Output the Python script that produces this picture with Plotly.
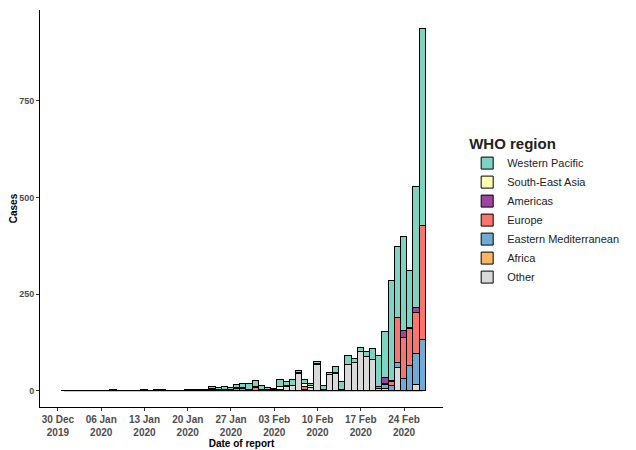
import pandas as pd
import plotly.graph_objects as go

# Dates of report: 31 Dec 2019 .. 27 Feb 2020 (59 days)
dates = pd.date_range("2019-12-31", "2020-02-27", freq="D")

# Values per WHO region (Dec 31, Jan 1..31, Feb 1..27)
western_pacific = ([0] + [0, 0, 0, 0, 0, 0, 0, 0, 0, 0]
                   + [0, 0, 0, 0, 1, 1, 0, 0, 0, 1]
                   + [0, 2, 3, 6, 6, 7, 3, 9, 10, 14, 16]
                   + [10, 4, 4, 17, 12, 14, 4, 9, 7, 6]
                   + [8, 6, 15, 21, 22, 11, 9, 11, 29, 81]
                   + [121, 259, 183, 243, 146, 313, 509])
south_east_asia = ([0] + [0, 0, 0, 0, 0, 0, 0, 1, 0, 0]
                   + [0, 0, 1, 0, 0, 0, 0, 0, 0, 0]
                   + [1, 0, 0, 1, 0, 1, 2, 2, 2, 3, 3]
                   + [0, 1, 0, 8, 1, 0, 0, 8, 3, 0]
                   + [0, 0, 2, 0, 0, 0, 0, 0, 0, 0]
                   + [0, 0, 0, 0, 0, 0, 0])
americas = ([0] + [0, 0, 0, 0, 0, 0, 0, 0, 0, 0]
            + [0, 0, 0, 0, 0, 0, 0, 0, 0, 0]
            + [1, 0, 0, 1, 0, 2, 1, 0, 0, 0, 0]
            + [1, 0, 0, 0, 0, 0, 0, 0, 0, 0]
            + [0, 0, 0, 0, 0, 0, 2, 0, 0, 0]
            + [15, 4, 0, 19, 3, 13, 0])
europe = ([0] + [0, 0, 0, 0, 0, 0, 0, 0, 0, 0]
          + [0, 0, 0, 0, 0, 0, 0, 0, 0, 0]
          + [0, 0, 0, 2, 1, 0, 0, 4, 1, 0, 6]
          + [2, 2, 1, 2, 0, 0, 3, 7, 2, 3]
          + [3, 0, 0, 1, 0, 0, 0, 0, 0, 0]
          + [2, 10, 116, 106, 97, 105, 294])
eastern_mediterranean = ([0] + [0, 0, 0, 0, 0, 0, 0, 0, 0, 0]
                         + [0, 0, 0, 0, 0, 0, 0, 0, 0, 0]
                         + [0, 0, 0, 0, 0, 0, 0, 0, 4, 0, 0]
                         + [0, 0, 0, 0, 0, 0, 0, 0, 0, 0]
                         + [0, 0, 0, 0, 0, 0, 0, 0, 0, 5]
                         + [10, 12, 13, 30, 63, 80, 132])
africa = [0] * 59
other = ([0] + [0, 0, 0, 0, 0, 0, 0, 0, 0, 0]
         + [0, 0, 0, 0, 0, 0, 0, 0, 0, 0]
         + [0, 0, 0, 0, 0, 0, 0, 0, 0, 0, 0]
         + [0, 0, 0, 0, 10, 13, 44, 3, 6, 66]
         + [0, 40, 44, 0, 67, 72, 99, 88, 79, 5]
         + [5, 0, 59, 0, 0, 16, 0])

series = [
    ("Other", other, "#D9D9D9"),
    ("Africa", africa, "#FDB462"),
    ("Eastern Mediterranean", eastern_mediterranean, "#72AAD6"),
    ("Europe", europe, "#F8766D"),
    ("Americas", americas, "#A044A2"),
    ("South-East Asia", south_east_asia, "#FFFFB3"),
    ("Western Pacific", western_pacific, "#7DD4C2"),
]

tick_dates = ["2019-12-30", "2020-01-06", "2020-01-13", "2020-01-20", "2020-01-27",
              "2020-02-03", "2020-02-10", "2020-02-17", "2020-02-24"]
tick_labels = ["30 Dec<br>2019", "06 Jan<br>2020", "13 Jan<br>2020", "20 Jan<br>2020",
               "27 Jan<br>2020", "03 Feb<br>2020", "10 Feb<br>2020", "17 Feb<br>2020",
               "24 Feb<br>2020"]
y_ticks = [0, 250, 500, 750]

fig = go.Figure()
for name, vals, col in series:
    fig.add_trace(go.Bar(x=dates, y=vals, name=name,
                         marker=dict(color=col, line=dict(color="black", width=1))))

# zero-height bars in the original still show their outline as a baseline
fig.add_trace(go.Scatter(x=dates, y=[0] * len(dates), mode="lines",
                         line=dict(color="black", width=1), showlegend=False,
                         hoverinfo="skip"))

totals = [sum(v) for v in zip(*[s[1] for s in series])]
ymax = max(totals)
x0 = dates[0] - pd.Timedelta(days=3.9)
x1 = dates[-1] + pd.Timedelta(days=3.3)

# page body has an 8px margin, so the figure is sized to the visible window
fig.update_layout(
    width=628, height=442,
    margin=dict(l=32, r=193, t=2, b=43),
    barmode="stack", bargap=0,
    plot_bgcolor="white", paper_bgcolor="white",
    font=dict(family="Liberation Sans, Arial, sans-serif", color="black"),
    xaxis=dict(type="date", range=[x0, x1], tickvals=tick_dates, ticktext=tick_labels,
               ticks="outside", ticklen=3, tickcolor="#333", showline=True,
               linecolor="black", linewidth=1, showgrid=False, zeroline=False,
               automargin=False,
               tickfont=dict(size=10, color="#4D4D4D", weight="bold"),
               title=dict(text="Date of report", font=dict(size=10, weight="bold"),
                          standoff=2)),
    yaxis=dict(range=[-0.045 * ymax, 1.053 * ymax], tickvals=y_ticks,
               ticks="outside", ticklen=3, tickcolor="#333", showline=True,
               linecolor="black", linewidth=1, showgrid=False, zeroline=False,
               automargin=False,
               tickfont=dict(size=9, color="#4D4D4D", weight="bold"),
               title=dict(text="Cases", font=dict(size=10, weight="bold"), standoff=8)),
    legend=dict(x=1.06, y=0.70, xanchor="left", yanchor="top",
                traceorder="reversed",
                title=dict(text="WHO region", font=dict(size=15, weight="bold")),
                font=dict(size=11, color="#222")),
    showlegend=True,
)

fig.write_html("out.html")
